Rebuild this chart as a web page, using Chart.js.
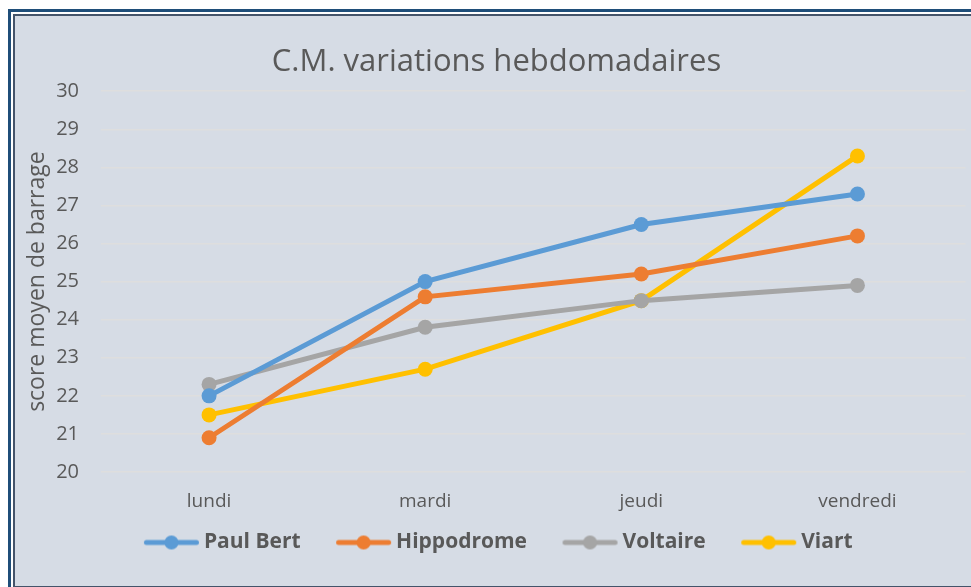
<!DOCTYPE html>
<html>
<head>
<meta charset="utf-8">
<script src="https://cdn.jsdelivr.net/npm/chart.js@4.4.0/dist/chart.umd.min.js"></script>
<style>
    html, body { margin: 0; padding: 0; background: #fff; }
    body { width: 971px; height: 587px; overflow: hidden; position: relative; }
    .frame {
        position: absolute; left: 8px; top: 9px; width: 990px; height: 590px;
        border-left: 3px solid #1f4e79; border-top: 3px solid #1f4e79;
    }
    .chart-box {
        position: absolute; left: 13px; top: 14px; width: 980px; height: 570px;
        border: 2px solid #44546a; background: #d6dce5;
    }
    #cm-chart { position: absolute; left: 0; top: 0; }
</style>
</head>
<body>
<div class="frame"></div>
<div class="chart-box">
    <canvas id="cm-chart" width="958" height="570"></canvas>
</div>
<script>
    // Jours et scores moyens par site
    const jours = ['lundi', 'mardi', 'jeudi', 'vendredi'];
    const paulBert = [22.0, 25.0, 26.5, 27.3];
    const hippodrome = [20.9, 24.6, 25.2, 26.2];
    const voltaire = [22.3, 23.8, 24.5, 24.9];
    const viart = [21.5, 22.7, 24.5, 28.3];
    const yTicks = [20, 21, 22, 23, 24, 25, 26, 27, 28, 29, 30];

    const couleurs = {
        paulBert: '#5b9bd5',
        hippodrome: '#ed7d31',
        voltaire: '#a5a5a5',
        viart: '#ffc000'
    };

    // icône "trait + point" de la légende (partie gauche transparente = espace entre les entrées)
    function iconeLegende(color) {
        const c = document.createElement('canvas');
        c.width = 90;
        c.height = 18;
        const ctx = c.getContext('2d');
        ctx.strokeStyle = color;
        ctx.lineWidth = 5;
        ctx.lineCap = 'round';
        ctx.beginPath();
        ctx.moveTo(35.5, 9);
        ctx.lineTo(85.5, 9);
        ctx.stroke();
        ctx.fillStyle = color;
        ctx.beginPath();
        ctx.arc(60.5, 9, 7, 0, Math.PI * 2);
        ctx.fill();
        return c;
    }

    function serie(label, data, color) {
        return {
            label: label,
            data: data,
            borderColor: color,
            backgroundColor: color,
            borderWidth: 5,
            pointRadius: 7.5,
            pointHoverRadius: 7.5,
            pointBorderWidth: 0,
            tension: 0
        };
    }

    // recentre la légende (l'espace vide à gauche de la première icône la décale)
    const decalageLegende = {
        id: 'decalageLegende',
        afterLayout(chart) {
            if (chart.legend) {
                chart.legend.left -= 11;
                chart.legend.right -= 11;
            }
        }
    };

    const texte = '#595959';
    const police = '"Open Sans", "Noto Sans", sans-serif';

    new Chart(document.getElementById('cm-chart'), {
        type: 'line',
        data: {
            labels: jours,
            datasets: [
                serie('Paul Bert', paulBert, couleurs.paulBert),
                serie('Hippodrome', hippodrome, couleurs.hippodrome),
                serie('Voltaire', voltaire, couleurs.voltaire),
                serie('Viart', viart, couleurs.viart)
            ]
        },
        plugins: [decalageLegende],
        options: {
            responsive: false,
            animation: false,
            layout: { padding: { left: 9, right: 4, top: 20, bottom: 23 } },
            plugins: {
                title: {
                    display: true,
                    text: 'C.M. variations hebdomadaires',
                    color: texte,
                    font: { family: police, size: 31, weight: 'normal' },
                    padding: { top: 8, bottom: 10 }
                },
                legend: {
                    position: 'bottom',
                    labels: {
                        usePointStyle: true,
                        pointStyleWidth: 75,
                        padding: 10,
                        color: texte,
                        font: { family: police, size: 21, weight: 'bold' },
                        generateLabels(chart) {
                            const items = Chart.defaults.plugins.legend.labels.generateLabels(chart);
                            items.forEach(it => {
                                it.pointStyle = iconeLegende(chart.data.datasets[it.datasetIndex].borderColor);
                            });
                            return items;
                        }
                    }
                },
                tooltip: { enabled: false }
            },
            scales: {
                x: {
                    offset: true,
                    grid: { display: false },
                    border: { display: false },
                    ticks: { color: texte, font: { family: police, size: 19 }, padding: 10 },
                    afterFit(axis) {
                        axis.height = 50;
                    }
                },
                y: {
                    min: 20,
                    max: 30,
                    afterBuildTicks(axis) {
                        axis.ticks = yTicks.map(v => ({ value: v }));
                    },
                    afterFit(axis) {
                        axis.width = 77;
                    },
                    grid: { color: '#dedede', lineWidth: 1.5, drawTicks: false },
                    border: { display: false },
                    ticks: { color: texte, font: { family: police, size: 20 }, padding: 22 },
                    title: {
                        display: true,
                        text: 'score moyen de barrage',
                        color: texte,
                        font: { family: police, size: 23 },
                        padding: { top: 0, bottom: 2 }
                    }
                }
            }
        }
    });
</script>
</body>
</html>
